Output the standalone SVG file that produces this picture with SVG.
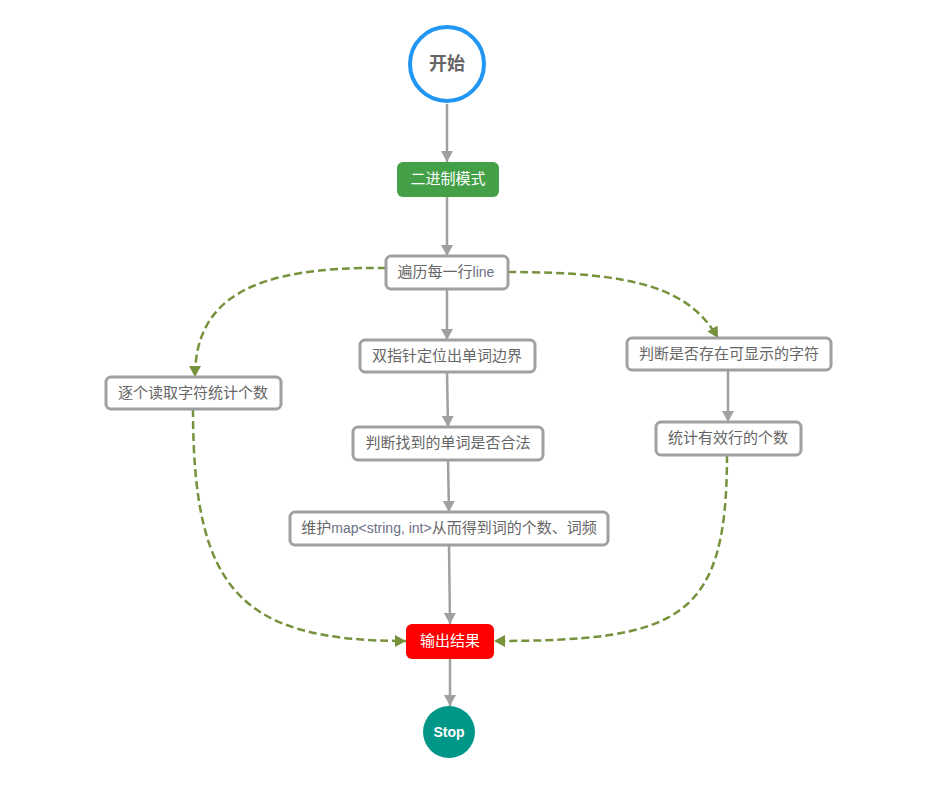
<svg xmlns="http://www.w3.org/2000/svg" width="938" height="804" viewBox="0 0 938 804">
<style>
.box{fill:#fff;stroke:#a0a0a0;stroke-width:3}
.lbl{font-family:"Noto Sans CJK SC","Liberation Sans",sans-serif;font-size:15px;fill:#666;text-anchor:middle}
.lat{font-family:"Liberation Sans",sans-serif;font-size:14px;fill:#6c7088}
.wl{fill:#fff}
.solid{fill:none;stroke:#a0a0a0;stroke-width:2.5}
.dash{fill:none;stroke:#76923c;stroke-width:2.5;stroke-dasharray:8 4}
</style>
<defs>
<marker id="ag" markerUnits="userSpaceOnUse" markerWidth="12" markerHeight="12" refX="11" refY="6" orient="auto"><path d="M0,0 L11,6 L0,12 z" fill="#a0a0a0"/></marker>
<marker id="agr" markerUnits="userSpaceOnUse" markerWidth="12" markerHeight="12" refX="11" refY="6" orient="auto"><path d="M0,0 L11,6 L0,12 z" fill="#76923c"/></marker>
</defs>
<rect width="938" height="804" fill="#fff"/>
<g id="connectors">
<path class="solid" d="M447,104 L447,162" marker-end="url(#ag)"/>
<path class="solid" d="M447,197 L447,256" marker-end="url(#ag)"/>
<path class="solid" d="M447,289 L447,340" marker-end="url(#ag)"/>
<path class="solid" d="M447,372 L448,427" marker-end="url(#ag)"/>
<path class="solid" d="M448,460 L449,512" marker-end="url(#ag)"/>
<path class="solid" d="M449,545 L450,624" marker-end="url(#ag)"/>
<path class="solid" d="M450,659 L450,706" marker-end="url(#ag)"/>
<path class="solid" d="M728,370 L728,422" marker-end="url(#ag)"/>
<path class="dash" d="M386,268 C250,266 195,300 195,377" marker-end="url(#agr)"/>
<path class="dash" d="M508,272 C640,272 690,290 718,338" marker-end="url(#agr)"/>
<path class="dash" d="M193,409 C193,590 240,641 406,641" marker-end="url(#agr)"/>
<path class="dash" d="M727,455 C727,620 680,641 494,641" marker-end="url(#agr)"/>
</g>
<g id="start">
<circle cx="447" cy="64" r="37" fill="#fff" stroke="#2196f3" stroke-width="4"/>
<text class="lbl" x="447" y="70" style="font-size:18px;font-weight:bold">开始</text>
</g>
<g id="binary">
<rect x="397" y="162" width="102" height="35" rx="6" fill="#43a047"/>
<text class="lbl wl" x="448" y="184">二进制模式</text>
</g>
<g id="each-line">
<rect class="box" x="386" y="256" width="122" height="33" rx="5"/>
<text class="lbl" x="446" y="277">遍历每一行<tspan class="lat">line</tspan></text>
</g>
<g id="two-pointers">
<rect class="box" x="360" y="340" width="175" height="32" rx="5"/>
<text class="lbl" x="447" y="361">双指针定位出单词边界</text>
</g>
<g id="check-word">
<rect class="box" x="353" y="427" width="190" height="33" rx="5"/>
<text class="lbl" x="448" y="448">判断找到的单词是否合法</text>
</g>
<g id="maintain-map">
<rect class="box" x="290" y="512" width="318" height="33" rx="5"/>
<text class="lbl" x="449" y="533">维护<tspan class="lat">map&lt;string, int&gt;</tspan>从而得到词的个数、词频</text>
</g>
<g id="count-chars">
<rect class="box" x="106" y="377" width="175" height="32" rx="5"/>
<text class="lbl" x="193" y="398">逐个读取字符统计个数</text>
</g>
<g id="check-visible">
<rect class="box" x="627" y="338" width="204" height="32" rx="5"/>
<text class="lbl" x="729" y="359">判断是否存在可显示的字符</text>
</g>
<g id="count-lines">
<rect class="box" x="656" y="422" width="145" height="33" rx="5"/>
<text class="lbl" x="728" y="443">统计有效行的个数</text>
</g>
<g id="output">
<rect x="406" y="624" width="88" height="35" rx="6" fill="#ff0000"/>
<text class="lbl wl" x="450" y="646">输出结果</text>
</g>
<g id="stop">
<circle cx="449" cy="732" r="26" fill="#009688"/>
<text class="lbl wl" x="449" y="737" style="font-size:14px;font-weight:bold;font-family:'Liberation Sans',sans-serif">Stop</text>
</g>
</svg>
